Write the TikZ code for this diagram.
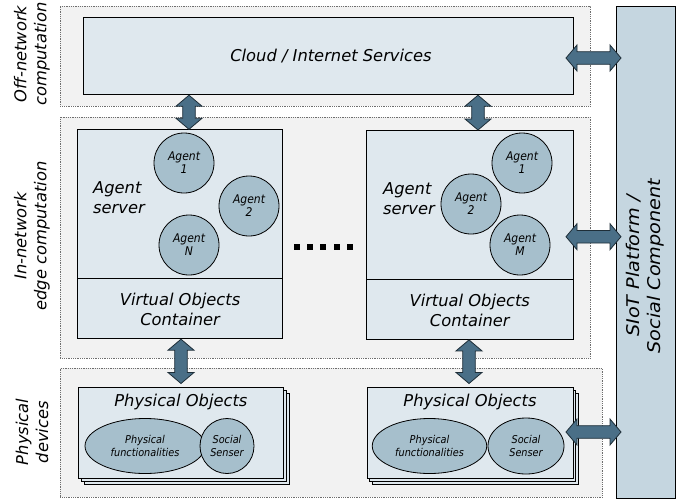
\documentclass[tikz,border=0pt]{standalone}
\usepackage{fontspec}
\setmainfont{DejaVu Sans}
\newfontfamily\narrowsans[FakeStretch=0.9]{DejaVu Sans}
\newfontfamily\widesans[FakeStretch=1.1]{DejaVu Sans}
\usetikzlibrary{calc,shapes.geometric}

\definecolor{regfill}{HTML}{F2F2F2}
\definecolor{regline}{HTML}{6E6E6E}
\definecolor{boxfill}{HTML}{DFE8EE}
\definecolor{agentfill}{HTML}{A6BFCC}
\definecolor{siotfill}{HTML}{C5D6E0}
\definecolor{arrowfill}{HTML}{4A6F87}
\definecolor{arrowline}{HTML}{1E2E38}

\newcommand\fs[2]{\fontsize{#1}{#2}\selectfont\itshape}

\tikzset{
  region/.style={draw=regline, fill=regfill, line width=0.8pt,
    dash pattern=on 1pt off 0.8pt, inner sep=0pt, anchor=north west},
  box/.style={draw=black, fill=boxfill, line width=0.9pt, inner sep=0pt,
    anchor=north west},
  agent/.style={circle, draw=black, fill=agentfill, line width=0.8pt,
    minimum size=60pt, inner sep=0pt, align=center,
    font=\narrowsans\fs{12}{13}},
  func/.style={ellipse, draw=black, fill=agentfill, line width=0.8pt,
    inner sep=0pt, align=center, font=\narrowsans\fs{10.8}{12.5}},
  label/.style={align=center, inner sep=0pt, font=\fs{16.3}{20}},
  dotsq/.style={fill=black, minimum size=6pt, inner sep=0pt},
  fat/.style={draw=arrowline, fill=arrowfill, line width=0.8pt,
    to path={let \p1=(\tikztostart), \p2=(\tikztotarget),
      \n1={veclen(\x2-\x1,\y2-\y1)}, \n2={atan2(\y2-\y1,\x2-\x1)} in
      [shift={(\p1)}, rotate=\n2]
      (0pt,0pt) -- (11pt,13pt) -- (11pt,6.3pt) -- (\n1-11pt,6.3pt)
      -- (\n1-11pt,13pt) -- (\n1,0pt) -- (\n1-11pt,-13pt)
      -- (\n1-11pt,-6.3pt) -- (11pt,-6.3pt) -- (11pt,-13pt) -- cycle}}
}

\begin{document}
\begin{tikzpicture}[x=1pt,y=-1pt]
\useasboundingbox (0,0) rectangle (683,499);

% layer regions
\node[region, minimum width=530, minimum height=100] (offreg) at (60,5.7) {};
\node[region, minimum width=530, minimum height=241] (inreg) at (60,116.7) {};
\node[region, minimum width=542, minimum height=129] (physreg) at (60,368) {};

% layer captions
\node[label, rotate=90] (offlbl) at (32,54) {Off-network\\computation};
\node[label, rotate=90] (inlbl) at (32,236) {In-network\\edge computation};
\node[label, rotate=90] (physlbl) at (32,432) {Physical\\devices};

% SIoT platform column
\node[box, fill=siotfill, minimum width=59, minimum height=492.6] (siot) at (616,5.7) {};
\node[label, rotate=90, font=\widesans\fs{17.5}{21}] (siotlbl) at (645.5,266) {SIoT Platform /\\Social Component};

% cloud
\node[box, minimum width=490, minimum height=77.6] (cloud) at (82.5,16.7) {};
\node[label] (cloudlbl) at ([xshift=3pt]cloud.center) {Cloud / Internet Services};

% left agent server
\node[box, minimum width=204.7, minimum height=149] (srvL) at (77.3,129.3) {};
\node[box, minimum width=204.7, minimum height=60] (vocL) at (77.3,278.3) {};
\node[label, align=left, anchor=west] (srvLlbl) at (93,198) {Agent\\server};
\node[label] (vocLlbl) at ($(vocL.center)+(0,1)$) {Virtual Objects\\Container};
\node[agent] (aL1) at (184,163) {Agent\\1};
\node[agent] (aL2) at (249,206) {Agent\\2};
\node[agent] (aLN) at (189,245) {Agent\\N};

% right agent server
\node[box, minimum width=206.7, minimum height=149] (srvR) at (366,130) {};
\node[box, minimum width=206.7, minimum height=60] (vocR) at (366,279) {};
\node[label, align=left, anchor=west] (srvRlbl) at (383,199) {Agent\\server};
\node[label] (vocRlbl) at ($(vocR.center)+(0,1)$) {Virtual Objects\\Container};
\node[agent] (aR1) at (522,163) {Agent\\1};
\node[agent] (aR2) at (471,204) {Agent\\2};
\node[agent] (aRM) at (520,245) {Agent\\M};

% ellipsis between the servers
\foreach \i/\xx in {1/296.7,2/310,3/323.3,4/336.7,5/350}
  \node[dotsq] (dot\i) at (\xx,247) {};

% physical object stacks
\node[box, minimum width=205, minimum height=91] (poL3) at (84,392.5) {};
\node[box, minimum width=205, minimum height=91] (poL2) at (81,389.5) {};
\node[box, minimum width=205, minimum height=91] (poL) at (78,386.5) {};
\node[label] (poLlbl) at ([yshift=-15pt]poL.north) {Physical Objects};
\node[func, minimum width=120, minimum height=55] (pfL) at (145,446) {Physical\\functionalities};
\node[func, minimum width=54, minimum height=55] (ssL) at (227,446) {Social\\Senser};

\node[box, minimum width=206, minimum height=91] (poR3) at (372,392.5) {};
\node[box, minimum width=206, minimum height=91] (poR2) at (369,389.5) {};
\node[box, minimum width=206, minimum height=91] (poR) at (366.5,386.5) {};
\node[label] (poRlbl) at ([yshift=-15pt]poR.north) {Physical Objects};
\node[func, minimum width=114.5, minimum height=55] (pfR) at (429.5,446) {Physical\\functionalities};
\node[func, minimum width=76, minimum height=56] (ssR) at (526,446) {Social\\Senser};

% arrow columns and rows
\coordinate (colL) at (189,0);
\coordinate (colR) at (478,0);
\coordinate (colLb) at (181,0);
\coordinate (colRb) at (469,0);
\coordinate (colS) at (566,0);

% cloud <-> agent servers
\draw[fat] (colL |- cloud.south) to (colL |- srvL.north);
\draw[fat] (colR |- cloud.south) to (colR |- srvR.north);

% virtual objects <-> physical objects
\coordinate (pLtop) at ([yshift=3pt]poL.north);
\coordinate (pRtop) at ([yshift=3pt]poR.north);
\draw[fat] (colLb |- vocL.south) to (colLb |- pLtop);
\draw[fat] (colRb |- vocR.south) to (colRb |- pRtop);

% links to the SIoT platform
\coordinate (h1) at (colS |- 0,58);
\coordinate (h2) at (colS |- 0,236.7);
\coordinate (h3) at (colS |- 0,432);
\draw[fat] (h1) to ([xshift=5pt]siot.west |- h1);
\draw[fat] (h2) to ([xshift=5pt]siot.west |- h2);
\draw[fat] (h3) to ([xshift=5pt]siot.west |- h3);
\end{tikzpicture}
\end{document}
